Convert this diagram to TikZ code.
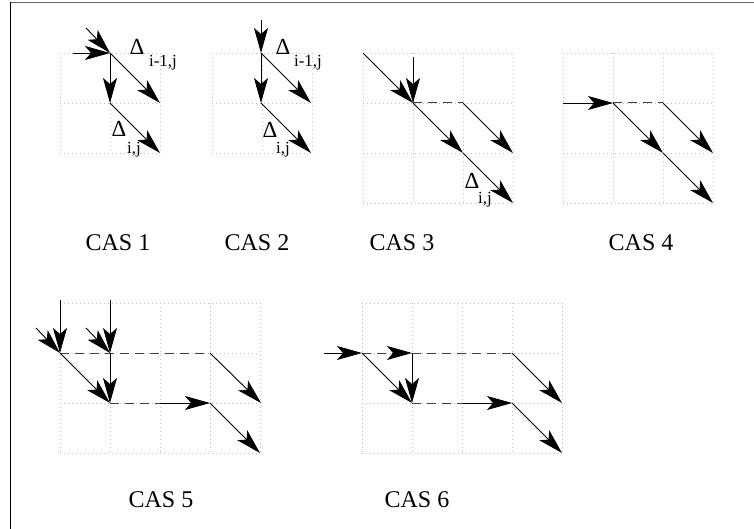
\documentclass[tikz,border=0pt]{standalone}
\usepackage{fontspec}
\setmainfont{Liberation Serif}
\usetikzlibrary{arrows.meta}
\tikzset{
  gridline/.style={draw=black!25, line width=0.6pt, dash pattern=on 0.8pt off 3.2pt},
  tip/.style={-{Stealth[length=25pt,width=14pt,inset=6pt,black]}},
  arr/.style={tip, line width=0.9pt, black},
  dsh/.style={draw=black!75, line width=1pt, dash pattern=on 9pt off 6pt},
  caslabel/.style={anchor=base, inner sep=0pt, font=\fontsize{24}{28}\selectfont},
  dlt/.style={inner sep=0pt, font=\fontsize{23}{26}\selectfont},
  sub/.style={inner sep=0pt, font=\fontsize{17}{20}\selectfont},
}
\newcommand\mygrid[4]{%
  \foreach \i in {0,...,#3} \draw[gridline] ({#1+50*\i},#2) -- ({#1+50*\i},{#2+50*#4});
  \foreach \j in {0,...,#4} \draw[gridline] (#1,{#2+50*\j}) -- ({#1+50*#3},{#2+50*\j});
}
\begin{document}
\begin{tikzpicture}[x=1pt,y=-1pt]
\useasboundingbox (0,0) rectangle (754,529);
% frame
\coordinate (fTL) at (10.5,2.5);
\coordinate (fTR) at (754,2.5);
\coordinate (fBL) at (10.5,529);
\draw[black!60, line width=1pt] (fTR) -- (fTL);
\draw[black, line width=1pt] (fTL) -- (fBL);
% grids
\mygrid{60}{53}{2}{2}
\mygrid{212}{53}{2}{2}
\mygrid{363}{53}{3}{3}
\mygrid{563}{53}{3}{3}
\mygrid{60}{303}{4}{3}
\mygrid{362}{303}{4}{3}

% ---- CAS 1
\coordinate (a0) at (86,28);
\coordinate (ah) at (73,53);
\coordinate (a1) at (110,53);
\coordinate (a2) at (160,103);
\coordinate (a3) at (110,103);
\coordinate (a4) at (160,153);
\draw[arr] (a0) -- (a1);
\draw[arr] (ah) -- (a1);
\draw[arr] (a1) -- (a2);
\draw[arr] (a1) -- (a3);
\draw[arr] (a3) -- (a4);
\node[dlt] (d1) at (137,47) {Δ};
\node[sub] (s1) at (163,63) {i-1,j};
\node[dlt] (d2) at (119,129) {Δ};
\node[sub] (s2) at (134,150) {i,j};

% ---- CAS 2
\coordinate (b0) at (261,20);
\coordinate (b1) at (261,53);
\coordinate (b2) at (311,103);
\coordinate (b3) at (261,103);
\coordinate (b4) at (311,153);
\draw[arr] (b0) -- (b1);
\draw[arr] (b1) -- (b2);
\draw[arr] (b1) -- (b3);
\draw[arr] (b3) -- (b4);
\node[dlt] (d3) at (283,47) {Δ};
\node[sub] (s3) at (308,63) {i-1,j};
\node[dlt] (d4) at (270,130) {Δ};
\node[sub] (s4) at (283,150) {i,j};

% ---- CAS 3
\coordinate (c0) at (363,53);
\coordinate (cv) at (413,57);
\coordinate (c1) at (413,103);
\coordinate (c2) at (463,103);
\coordinate (c3) at (513,153);
\coordinate (c4) at (463,153);
\coordinate (c5) at (513,203);
\draw[arr] (c0) -- (c1);
\draw[arr] (cv) -- (c1);
\draw[dsh] (c1) -- (c2);
\draw[arr] (c2) -- (c3);
\draw[arr] (c1) -- (c4);
\draw[arr] (c4) -- (c5);
\node[dlt] (d5) at (472,181) {Δ};
\node[sub] (s5) at (485,200) {i,j};

% ---- CAS 4
\coordinate (e0) at (563,103);
\coordinate (e1) at (613,103);
\coordinate (e2) at (663,103);
\coordinate (e3) at (713,153);
\coordinate (e4) at (663,153);
\coordinate (e5) at (713,203);
\draw[arr] (e0) -- (e1);
\draw[dsh] (e1) -- (e2);
\draw[arr] (e2) -- (e3);
\draw[arr] (e1) -- (e4);
\draw[arr] (e4) -- (e5);

% ---- CAS 5
\coordinate (f0v) at (60,300);
\coordinate (f0d) at (36,328);
\coordinate (f1) at (60,353);
\coordinate (f2v) at (110,300);
\coordinate (f2d) at (86,328);
\coordinate (f2) at (110,353);
\coordinate (f3) at (210,353);
\coordinate (f4) at (261,403);
\coordinate (f5) at (110,403);
\coordinate (f6) at (160,403);
\coordinate (f7) at (210,403);
\coordinate (f8) at (260,453);
\draw[arr] (f0v) -- (f1);
\draw[arr] (f0d) -- (f1);
\draw[arr] (f2v) -- (f2);
\draw[arr] (f2d) -- (f2);
\draw[dsh] (f1) -- (f3);
\draw[arr] (f3) -- (f4);
\draw[arr] (f1) -- (f5);
\draw[arr] (f2) -- (f5);
\draw[dsh] (f5) -- (f6);
\draw[arr] (f6) -- (f7);
\draw[arr] (f7) -- (f8);

% ---- CAS 6
\coordinate (g0) at (324,353);
\coordinate (g1) at (362,353);
\coordinate (g2) at (412,353);
\coordinate (g3) at (512,353);
\coordinate (g4) at (562,403);
\coordinate (g5) at (412,403);
\coordinate (g6) at (462,403);
\coordinate (g7) at (512,403);
\coordinate (g8) at (562,453);
\draw[arr] (g0) -- (g1);
\draw[dsh, tip] (g1) -- (g2);
\draw[dsh] (g2) -- (g3);
\draw[arr] (g3) -- (g4);
\draw[arr] (g1) -- (g5);
\draw[arr] (g2) -- (g5);
\draw[dsh] (g5) -- (g6);
\draw[arr] (g6) -- (g7);
\draw[arr] (g7) -- (g8);

% labels
\node[caslabel] (l1) at (118,250) {CAS 1};
\node[caslabel] (l2) at (257,250) {CAS 2};
\node[caslabel] (l3) at (402,250) {CAS 3};
\node[caslabel] (l4) at (641,250) {CAS 4};
\node[caslabel] (l5) at (161,507) {CAS 5};
\node[caslabel] (l6) at (417,507) {CAS 6};
\end{tikzpicture}
\end{document}
